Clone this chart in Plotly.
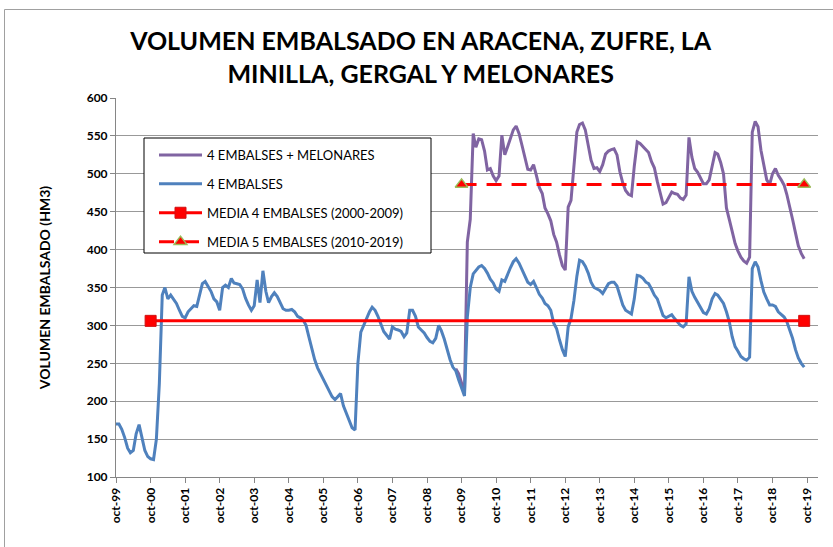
import plotly.graph_objects as go
import pandas as pd

# ---------------- data ----------------
series_start = "1999-10-01"

blue_values = [
    170, 170, 163, 152, 138, 132, 135, 157, 169, 150, 135, 127,   # oct-99
    124, 123, 150, 223, 340, 350, 335, 340, 334, 329, 320, 312,   # oct-00
    310, 318, 322, 326, 325, 340, 355, 358, 352, 345, 335, 331,   # oct-01
    320, 350, 353, 350, 362, 356, 355, 354, 348, 336, 327, 320,   # oct-02
    326, 360, 330, 372, 345, 330, 338, 343, 338, 330, 322, 320,   # oct-03
    320, 321, 318, 312, 310, 307, 300, 285, 268, 255, 244, 236,   # oct-04
    228, 221, 214, 206, 202, 206, 210, 194, 185, 175, 165, 162,   # oct-05
    250, 291, 300, 310, 318, 324, 320, 312, 302, 292, 287, 282,   # oct-06
    298, 295, 294, 292, 285, 290, 320, 320, 312, 298, 294, 290,   # oct-07
    284, 279, 277, 283, 300, 293, 282, 268, 255, 245, 240, 228,   # oct-08
    218, 207, 311, 350, 368, 372, 377, 379, 375, 369, 361, 356,   # oct-09
    348, 345, 360, 358, 368, 376, 384, 388, 382, 374, 367, 357,   # oct-10
    354, 358, 350, 341, 336, 329, 326, 320, 303, 296, 281, 268,   # oct-11
    259, 298, 309, 333, 365, 386, 384, 378, 369, 357, 350, 348,   # oct-12
    346, 342, 348, 355, 357, 357, 352, 338, 327, 320, 317, 315,   # oct-13
    335, 366, 365, 362, 357, 355, 348, 340, 335, 324, 313, 310,   # oct-14
    312, 314, 309, 304, 300, 298, 302, 364, 345, 337, 330, 322,   # oct-15
    317, 315, 322, 335, 342, 340, 335, 329, 318, 305, 285, 272,   # oct-16
    266, 259, 256, 254, 258, 375, 384, 377, 359, 344, 335, 327,   # oct-17
    327, 325, 318, 314, 311, 305, 295, 283, 268, 257, 250, 245,   # oct-18
]

purple_start = "2009-08-01"
purple_values = [
    243, 236,                                                     # aug-09
    224, 212, 410, 440, 553, 535, 546, 545, 530, 505, 507, 497,   # oct-09
    491, 497, 551, 525, 536, 548, 558, 563, 553, 538, 522, 506,   # oct-10
    505, 512, 498, 482, 474, 455, 447, 438, 420, 410, 393, 379,   # oct-11
    373, 456, 465, 510, 555, 565, 567, 558, 538, 518, 507, 508,   # oct-12
    503, 512, 526, 530, 532, 533, 525, 503, 488, 478, 473, 471,   # oct-13
    510, 542, 540, 536, 531, 528, 516, 508, 490, 473, 460, 462,   # oct-14
    470, 476, 474, 473, 468, 466, 472, 548, 522, 507, 502, 494,   # oct-15
    487, 487, 492, 510, 528, 526, 515, 500, 455, 440, 424, 408,   # oct-16
    398, 390, 385, 382, 390, 555, 569, 562, 531, 509, 492, 486,   # oct-17
    500, 507, 498, 492, 485, 473, 458, 440, 422, 405, 395, 388,   # oct-18
]

media4_dates = ["2000-10-01", "2019-09-01"]
media4_values = [306, 306]
media5_dates = ["2009-10-01", "2019-09-01"]
media5_values = [486, 486]

tick_dates = [f"{y}-10-01" for y in range(1999, 2020)]
tick_labels = ["oct-99", "oct-00", "oct-01", "oct-02", "oct-03", "oct-04", "oct-05",
               "oct-06", "oct-07", "oct-08", "oct-09", "oct-10", "oct-11", "oct-12",
               "oct-13", "oct-14", "oct-15", "oct-16", "oct-17", "oct-18", "oct-19"]

series_names = ["4 EMBALSES + MELONARES", "4 EMBALSES",
                "MEDIA 4 EMBALSES (2000-2009)", "MEDIA 5 EMBALSES (2010-2019)"]

blue_dates = pd.date_range(series_start, periods=len(blue_values), freq="MS")
purple_dates = pd.date_range(purple_start, periods=len(purple_values), freq="MS")

# ---------------- figure ----------------
FONT = "Lato"
W, H = 833, 547
L, R, T, B = 116, 15, 98, 70
PW, PH = W - L - R, H - T - B


def px_x(x):
    return (x - L) / PW


def px_y(y):
    return (H - B - y) / PH


fig = go.Figure()
fig.add_trace(go.Scatter(x=purple_dates, y=purple_values, mode="lines",
                         name=series_names[0], legendgroup="a",
                         line=dict(color="#8064A2", width=3)))
fig.add_trace(go.Scatter(x=blue_dates, y=blue_values, mode="lines",
                         name=series_names[1], legendgroup="b",
                         line=dict(color="#4F81BD", width=3)))
fig.add_trace(go.Scatter(x=media4_dates, y=media4_values, mode="lines+markers",
                         name=series_names[2], legendgroup="c",
                         line=dict(color="#FF0000", width=3),
                         marker=dict(symbol="square", size=11, color="#FF0000",
                                     line=dict(color="#D01010", width=1))))
fig.add_trace(go.Scatter(x=media5_dates, y=media5_values, mode="lines+markers",
                         name=series_names[3], legendgroup="d",
                         line=dict(color="#FF0000", width=3, dash="15px,10px"),
                         marker=dict(symbol="triangle-up", size=11, color="#FF0000",
                                     line=dict(color="#9BBB59", width=1.5))))

fig.update_layout(
    width=W, height=H,
    margin=dict(l=L, r=R, t=T, b=B),
    paper_bgcolor="white", plot_bgcolor="white",
    font=dict(family=FONT, color="black"),
    title=dict(text="VOLUMEN EMBALSADO EN ARACENA, ZUFRE, LA<br>MINILLA, GERGAL Y MELONARES",
               x=0.505, xref="container", xanchor="center",
               y=1 - 50 / H, yref="container", yanchor="top",
               font=dict(family=FONT, size=25, weight="bold", color="black")),
    showlegend=True,
    legend=dict(x=px_x(154), y=px_y(140), xanchor="left", yanchor="top",
                bgcolor="rgba(0,0,0,0)", borderwidth=0,
                font=dict(family=FONT, size=13, color="black"),
                traceorder="grouped", tracegroupgap=9, itemwidth=43),
    xaxis=dict(type="date", range=["1999-10-01", "2020-01-25"],
               tickmode="array", tickvals=tick_dates, ticktext=tick_labels,
               tickangle=-90, ticks="outside", ticklen=5, tickcolor="#868686",
               showline=True, linecolor="#868686", linewidth=1,
               showgrid=False, zeroline=False,
               tickfont=dict(family=FONT, size=12, weight="bold", color="black")),
    yaxis=dict(range=[100, 600], dtick=50, tick0=100,
               ticks="outside", ticklen=5, tickcolor="#868686",
               showline=True, linecolor="#868686", linewidth=1,
               showgrid=True, gridcolor="#999999", gridwidth=1, zeroline=False,
               tickfont=dict(family=FONT, size=12, weight="bold", color="black"),
               title=dict(text="VOLUMEN EMBALSADO (HM3)", standoff=32,
                          font=dict(family=FONT, size=14, weight="bold", color="black"))),
    shapes=[
        dict(type="rect", xref="paper", yref="paper",
             x0=px_x(144), x1=px_x(431), y0=px_y(253), y1=px_y(138),
             line=dict(color="black", width=1), fillcolor="white", layer="above"),
        dict(type="rect", xref="paper", yref="paper",
             x0=px_x(4.5), x1=px_x(840), y0=px_y(560), y1=px_y(9.5),
             line=dict(color="#A0A0A0", width=1), fillcolor="rgba(0,0,0,0)", layer="below"),
    ],
)

fig.write_html("out.html", config={"displayModeBar": False},
               post_script="document.body.style.margin='0';")
